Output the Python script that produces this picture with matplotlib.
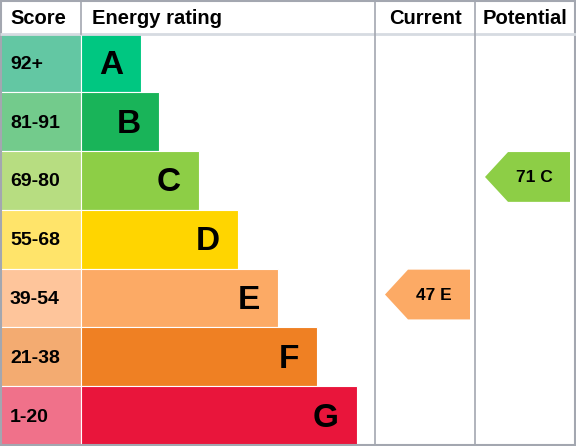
import matplotlib.pyplot as plt
from matplotlib.patches import Rectangle, Polygon

plt.rcParams['font.family'] = ['Liberation Sans', 'DejaVu Sans']

bands = ["A", "B", "C", "D", "E", "F", "G"]
scores = ["92+", "81-91", "69-80", "55-68", "39-54", "21-38", "1-20"]
bar_colors = ["#00c781", "#19b459", "#8dce46", "#ffd500", "#fcaa65", "#ef8023", "#e9153b"]
score_colors = ["#63c7a3", "#73cb8c", "#b7dd81", "#ffe46a", "#fec59b", "#f3ab71", "#f0718a"]
bar_lengths = [60, 78, 118, 157, 197, 236, 276]

current = (47, "E")
potential = (71, "C")

W, H = 576, 446
top, row_h = 33.5, (445 - 33.5) / 7
score_w = 81
cur_x, pot_x = 375, 475

fig = plt.figure(figsize=(W / 100, H / 100), dpi=100)
ax = fig.add_axes([0, 0, 1, 1])
ax.set_xlim(0, W)
ax.set_ylim(H, 0)
ax.axis("off")

for i, band in enumerate(bands):
    y0 = top + i * row_h
    ax.add_patch(Rectangle((0, y0), score_w, row_h, facecolor=score_colors[i],
                           edgecolor="white", linewidth=0.8))
    ax.add_patch(Rectangle((score_w, y0), bar_lengths[i], row_h, facecolor=bar_colors[i],
                           edgecolor="white", linewidth=0.8))
    ax.text(10, y0 + row_h / 2 + 1.5, scores[i], fontsize=14, fontweight="bold",
            ha="left", va="center")
    ax.text(score_w + bar_lengths[i] - 18, y0 + row_h / 2 + 2.5, band, fontsize=24,
            fontweight="bold", ha="right", va="center")


def arrow(x_left, x_right, value, band):
    i = bands.index(band)
    y0 = top + i * row_h + 1
    y1 = y0 + row_h - 9
    ym = (y0 + y1) / 2
    pts = [(x_left, ym), (x_left + 23, y0), (x_right, y0), (x_right, y1), (x_left + 23, y1)]
    ax.add_patch(Polygon(pts, closed=True, facecolor=bar_colors[i], edgecolor="none"))
    ax.text((x_left + 23 + x_right) / 2 - 5, ym + 1, f"{value} {band}", fontsize=12.5,
            fontweight="bold", ha="center", va="center")


arrow(385, 470, current[0], current[1])
arrow(485, 570, potential[0], potential[1])

# header and grid lines
ax.plot([0, W], [top, top], color="#d6dbe1", linewidth=2, solid_capstyle="butt")
ax.plot([score_w, score_w], [0, top], color="#a3a7b0", linewidth=1.2)
for x in (cur_x, pot_x):
    ax.plot([x, x], [0, 445], color="#a3a7b0", linewidth=1.2)
ax.add_patch(Rectangle((0.5, 0.5), W - 1.5, 445 - 0.5, facecolor="none",
                       edgecolor="#a3a7b0", linewidth=1.5))

header_y = 18.5
ax.text(10, header_y, "Score", fontsize=14.5, fontweight="bold", ha="left", va="center")
ax.text(92, header_y, "Energy rating", fontsize=14.5, fontweight="bold", ha="left", va="center")
ax.text((cur_x + pot_x) / 2, header_y, "Current", fontsize=14.5, fontweight="bold",
        ha="center", va="center")
ax.text((pot_x + W) / 2, header_y, "Potential", fontsize=14.5, fontweight="bold",
        ha="center", va="center")

fig.savefig("out.png", dpi=100)
